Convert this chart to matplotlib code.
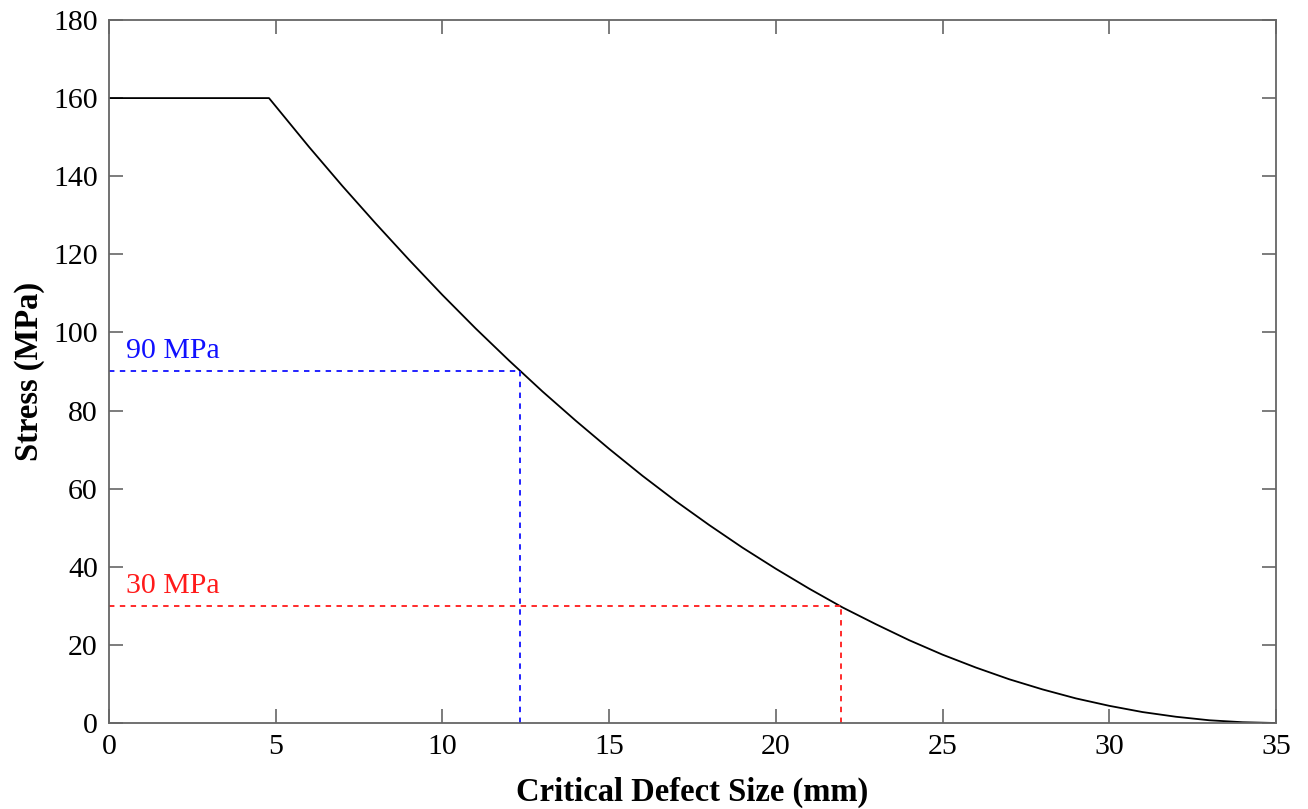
import matplotlib.pyplot as plt

plt.rcParams['font.family'] = ['Liberation Serif', 'DejaVu Serif']

# critical defect size (mm) vs allowable stress (MPa)
defect = [0, 4.8, 6, 7, 8, 9, 10, 11, 12, 13, 14, 15, 16, 17, 18, 19, 20,
          21, 22, 23, 24, 25, 26, 27, 28, 29, 30, 31, 32, 33, 34, 35]
stress = [160, 160, 147.5, 137.5, 127.9, 118.6, 109.6, 101, 92.8, 84.9, 77.4,
          70.2, 63.3, 56.8, 50.7, 44.9, 39.5, 34.4, 29.6, 25.3, 21.2, 17.5,
          14.2, 11.2, 8.6, 6.3, 4.4, 2.8, 1.6, 0.7, 0.2, 0]

marks = [90, 30]
mark_size = [12.33, 21.95]
mark_colors = ['#1010ff', '#ff1a1a']

fig = plt.figure(figsize=(13.08, 8.09), dpi=100)
ax = fig.add_axes([0.0833, 0.1063, 0.8922, 0.869])

ax.plot(defect, stress, color='black', lw=1.3)

for s, a, c in zip(marks, mark_size, mark_colors):
    ax.plot([0, a], [s, s], color=c, lw=1.3, ls=(0, (3, 3)))
    ax.plot([a, a], [0, s], color=c, lw=1.3, ls=(0, (3, 3)))
    ax.text(0.5, s + 1.8, f'{s} MPa', color=c, fontsize=21.5, va='bottom', ha='left')

ax.set_xlim(0, 35)
ax.set_ylim(0, 180)
ax.set_xticks(range(0, 36, 5))
ax.set_yticks(range(0, 181, 20))
ax.tick_params(direction='in', top=True, right=True, length=10, width=1.2,
               color='#666666', labelsize=21.5, pad=8)
for sp in ax.spines.values():
    sp.set_color('#666666')
    sp.set_linewidth(1.3)

ax.set_xlabel('Critical Defect Size (mm)', fontsize=23.5, fontweight='bold', labelpad=12)
ax.set_ylabel('Stress (MPa)', fontsize=23.5, fontweight='bold', labelpad=6)

fig.savefig('out.png', dpi=100)
